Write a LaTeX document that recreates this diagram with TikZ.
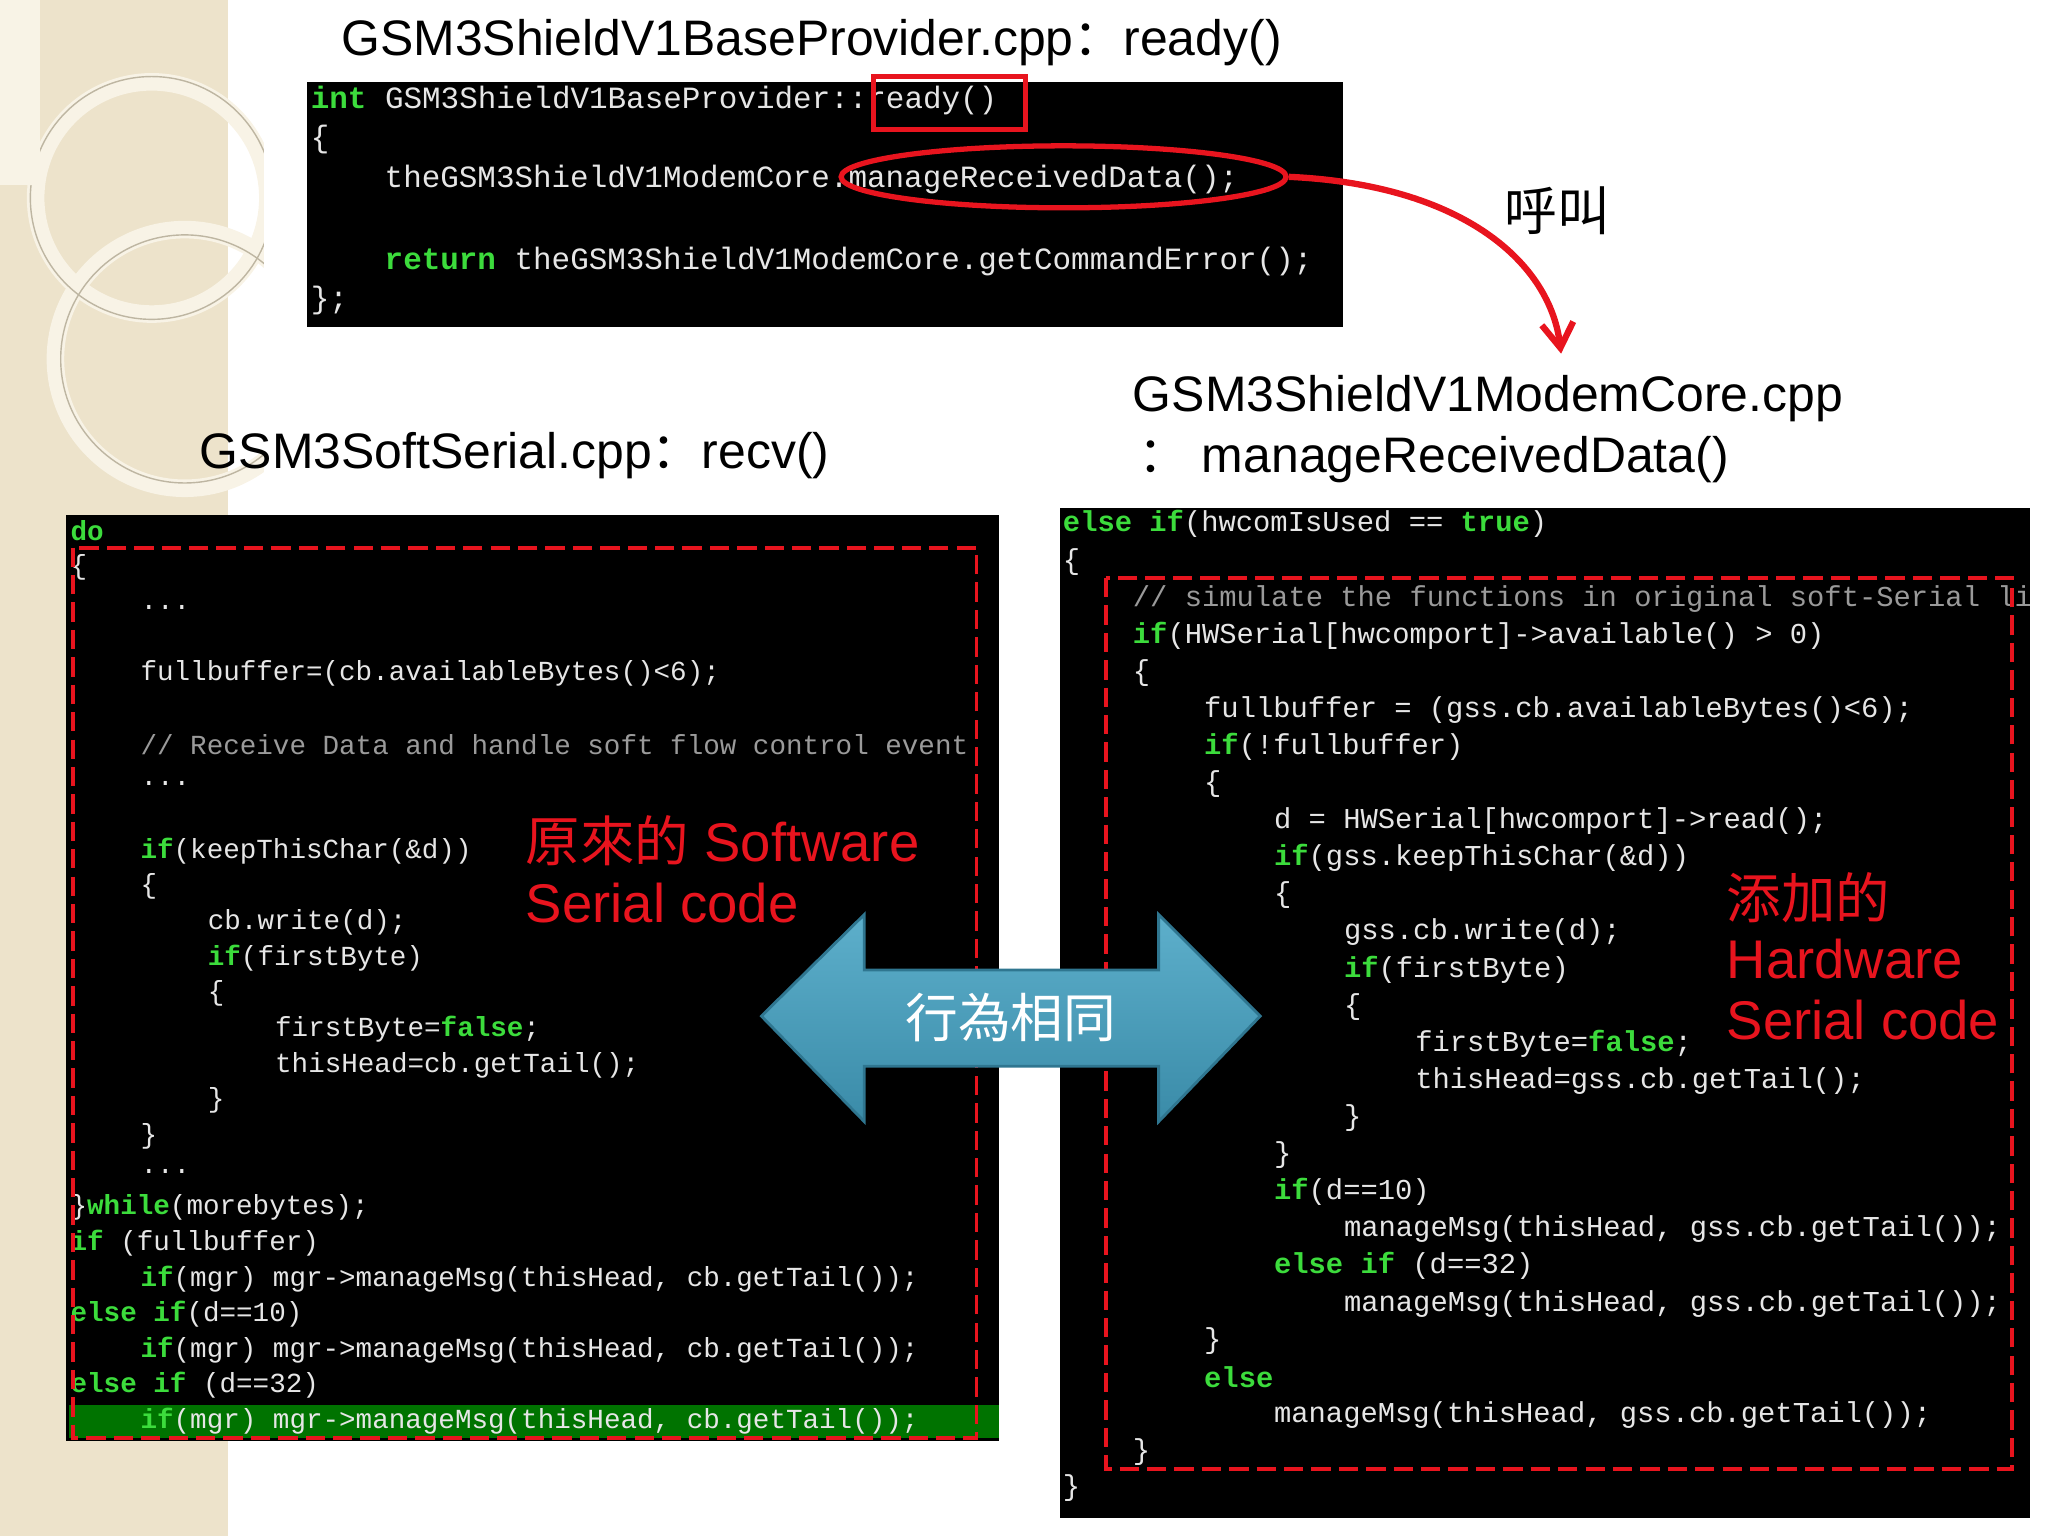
\documentclass[tikz,border=0pt]{standalone}
\usepackage{fontspec}
\setmainfont{Liberation Sans}
\newfontfamily\cmono{Liberation Mono}
\newfontfamily\cjk{Noto Sans CJK SC}
\usetikzlibrary{shapes.geometric,arrows.meta}
\definecolor{kwg}{HTML}{3CDC3C}
\definecolor{codefg}{HTML}{E6E6E6}
\definecolor{cmt}{HTML}{9A9A9A}
\definecolor{beige}{HTML}{EDE3CB}
\definecolor{ring}{HTML}{F8F3E6}
\definecolor{redc}{HTML}{E8141E}
\definecolor{arrtop}{HTML}{5DAFCB}
\definecolor{arrbot}{HTML}{3A8BA8}
\definecolor{arrline}{HTML}{2F7690}
\newcommand\kw[1]{\textcolor{kwg}{\bfseries #1}}
\newcounter{ln}
\newcommand\cl[3]{\stepcounter{ln}\node[code] (c\theln) at (#1,#2) {#3};}
\tikzset{
  code/.style={anchor=west,inner sep=0pt,text=codefg,font=\cmono\fontsize{\csz}{\csz}\selectfont},
  titletxt/.style={inner sep=0pt,font=\fontsize{14.2}{17}\selectfont},
  redtxt/.style={inner sep=0pt,anchor=west,text=redc,font=\fontsize{15.5}{18}\selectfont},
  reddash/.style={draw=redc,line width=1.1pt,dash pattern=on 5.5pt off 2.3pt},
}
\def\csz{9pt}
\begin{document}
\begin{tikzpicture}[x=0.013196cm,y=-0.013196cm]
\useasboundingbox (0,0) rectangle (1552,1164);
% background strip
\fill[beige] (0,0) rectangle (173,1164);
\begin{scope}
\clip (0,0) rectangle (200,1164);
\draw[ring,line width=5pt] (115,150) circle (88);
\draw[ring,line width=5pt] (140,272) circle (98);
\draw[beige!80!black,line width=0.4pt] (115,150) circle (92);
\draw[beige!80!black,line width=0.4pt] (140,272) circle (94);
\end{scope}
\fill[ring] (0,0) rectangle (30,140);
% titles
\node[titletxt] (t1) at (615,32) {GSM3ShieldV1BaseProvider.cpp{\cjk ：}ready()};
\node[titletxt,anchor=west] (t2) at (858,302) {GSM3ShieldV1ModemCore.cpp};
\node[titletxt,anchor=west] (t2b) at (862,348) {{\cjk ：} manageReceivedData()};
\node[titletxt] (t3) at (390,345) {GSM3SoftSerial.cpp{\cjk ：}recv()};
% top box
\fill[black] (233,62) rectangle (1018,248);
\def\csz{8.8pt}
\cl{235}{76}{\kw{int} GSM3ShieldV1BaseProvider::ready()}
\cl{235}{106}{\{}
\cl{291}{136}{theGSM3ShieldV1ModemCore.manageReceivedData();}
\cl{291}{198}{\kw{return} theGSM3ShieldV1ModemCore.getCommandError();}
\cl{235}{228}{\};}
\draw[redc,line width=1.5pt] (662,58) rectangle (777,98);
\node[draw=redc,line width=1.5pt,ellipse,minimum width=4.45cm,minimum height=0.62cm] (ell) at (806,134) {};
\coordinate (tip) at (1183,268);
\draw[redc,line width=1.8pt,-{Straight Barb[length=7pt,width=9pt]}] (ell.east) .. controls (1110,140) and (1175,200) .. (tip);
\node[inner sep=0pt,font=\cjk\fontsize{15}{18}\selectfont] (call) at (1180,160) {呼叫};
% left box
\fill[black] (50,390) rectangle (757,1092);
\fill[green!45!black] (52,1065) rectangle (757,1090);
\begin{scope}
\clip (50,390) rectangle (757,1092);
\def\csz{7.85pt}
\cl{53}{402}{\kw{do}}
\cl{53}{430}{\{}
\cl{106}{460}{...}
\cl{106}{510}{fullbuffer=(cb.availableBytes()<6);}
\cl{106}{564}{\textcolor{cmt}{// Receive Data and handle soft flow control event}}
\cl{106}{594}{...}
\cl{106}{645}{\kw{if}(keepThisChar(\&d))}
\cl{106}{672}{\{}
\cl{157}{699}{cb.write(d);}
\cl{157}{726}{\kw{if}(firstByte)}
\cl{157}{753}{\{}
\cl{208}{780}{firstByte=\kw{false};}
\cl{208}{807}{thisHead=cb.getTail();}
\cl{157}{834}{\}}
\cl{106}{861}{\}}
\cl{106}{888}{...}
\cl{53}{915}{\}\kw{while}(morebytes);}
\cl{53}{942}{\kw{if} (fullbuffer)}
\cl{106}{969}{\kw{if}(mgr) mgr->manageMsg(thisHead, cb.getTail());}
\cl{53}{996}{\kw{else} \kw{if}(d==10)}
\cl{106}{1023}{\kw{if}(mgr) mgr->manageMsg(thisHead, cb.getTail());}
\cl{53}{1050}{\kw{else} \kw{if} (d==32)}
\cl{106}{1077}{\kw{if}(mgr) mgr->manageMsg(thisHead, cb.getTail());}
\end{scope}
\draw[reddash] (55,415) rectangle (740,1090);
% right box
\fill[black] (803,385) rectangle (1538,1150);
\begin{scope}
\clip (803,385) rectangle (1538,1150);
\def\csz{8.2pt}
\cl{805}{397}{\kw{else} \kw{if}(hwcomIsUsed == \kw{true})}
\cl{805}{426}{\{}
\cl{858}{454}{\textcolor{cmt}{// simulate the functions in original soft-Serial lib}}
\cl{858}{482}{\kw{if}(HWSerial[hwcomport]->available() > 0)}
\cl{858}{510}{\{}
\cl{912}{538}{fullbuffer = (gss.cb.availableBytes()<6);}
\cl{912}{566}{\kw{if}(!fullbuffer)}
\cl{912}{594}{\{}
\cl{965}{622}{d = HWSerial[hwcomport]->read();}
\cl{965}{650}{\kw{if}(gss.keepThisChar(\&d))}
\cl{965}{678}{\{}
\cl{1018}{706}{gss.cb.write(d);}
\cl{1018}{735}{\kw{if}(firstByte)}
\cl{1018}{763}{\{}
\cl{1072}{791}{firstByte=\kw{false};}
\cl{1072}{819}{thisHead=gss.cb.getTail();}
\cl{1018}{847}{\}}
\cl{965}{875}{\}}
\cl{965}{903}{\kw{if}(d==10)}
\cl{1018}{931}{manageMsg(thisHead, gss.cb.getTail());}
\cl{965}{959}{\kw{else} \kw{if} (d==32)}
\cl{1018}{988}{manageMsg(thisHead, gss.cb.getTail());}
\cl{912}{1016}{\}}
\cl{912}{1044}{\kw{else}}
\cl{965}{1072}{manageMsg(thisHead, gss.cb.getTail());}
\cl{858}{1100}{\}}
\cl{805}{1128}{\}}
\end{scope}
\draw[reddash] (838,438) rectangle (1525,1113);
% red labels
\node[redtxt] (s1) at (398,637) {{\cjk 原來的} Software};
\node[redtxt] (s2) at (398,684) {Serial code};
\node[redtxt] (h1) at (1308,680) {\cjk 添加的};
\node[redtxt] (h2) at (1308,727) {Hardware};
\node[redtxt] (h3) at (1308,773) {Serial code};
% double arrow
\shade[top color=arrtop,bottom color=arrbot,draw=arrline,line width=0.8pt]
 (577,770) -- (655,693) -- (655,735) -- (878,735) -- (878,693) -- (955,770) -- (878,850) -- (878,808) -- (655,808) -- (655,850) -- cycle;
\node[inner sep=0pt,text=white,font=\cjk\fontsize{15}{18}\selectfont] (same) at (766,771) {行為相同};
\end{tikzpicture}
\end{document}
